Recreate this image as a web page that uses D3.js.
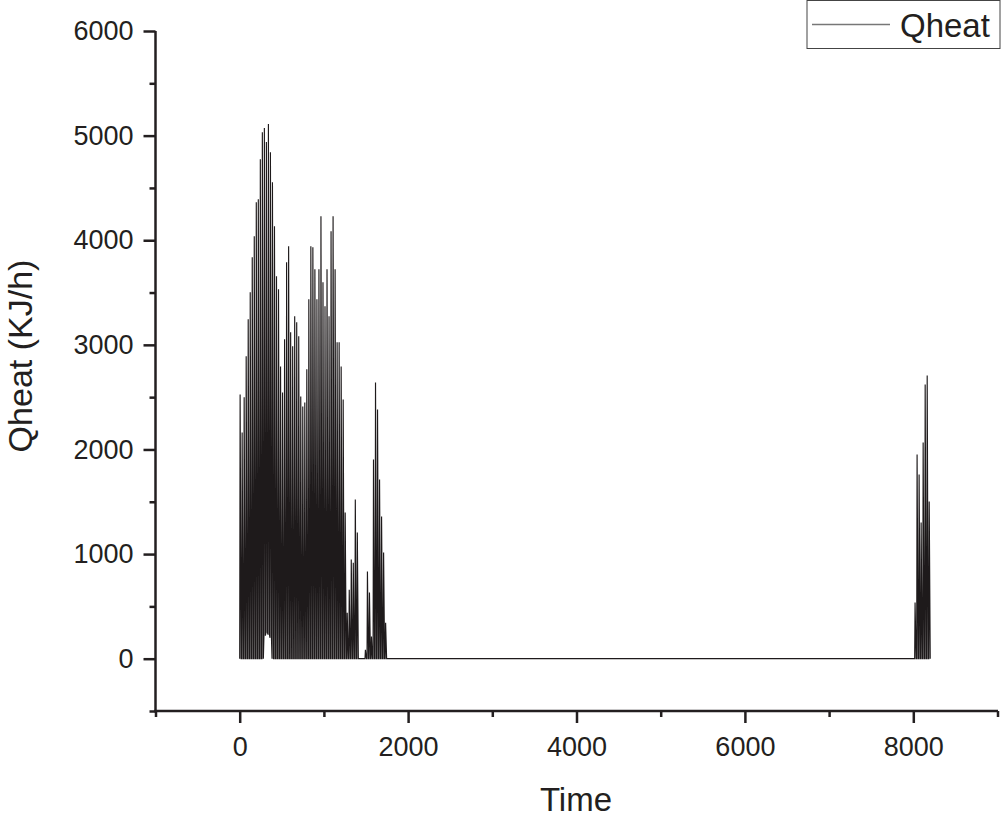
<!DOCTYPE html>
<html>
<head>
<meta charset="utf-8">
<script src="https://d3js.org/d3.v7.min.js"></script>
<style>
  body { margin: 0; background: white; }
  svg { display: block; font-family: "Liberation Sans", Arial, sans-serif; }
</style>
</head>
<body>
<svg id="main" width="1001" height="822"></svg>
<script>
// daily peak heat load (KJ/h), one spike per day
var seg1Start = 0
var seg1Peaks = [2526, 2163, 2500, 2890, 3244, 3502, 3837, 4038, 4364, 4392, 4775, 5033, 5072, 4938, 5110, 4842,
    4555, 4134, 3655, 3531, 2794, 2545, 3053, 3789, 3943, 3120, 2986, 3273,
    3215, 3081, 2507, 2411, 2450, 2766, 3435, 3943, 3933, 3722, 3435, 3722, 4230, 3598, 3368, 3722,
    3273, 4086, 4230, 3722, 3024, 3024, 2794, 2478, 1397, 440, 660, 947,
    918, 1522, 1206, 0, 0, 0, 86, 833, 632, 211, 1904, 2641, 2383, 1713, 1359, 1014, 344]
// days where the load never dropped back to zero: [day, lowest value]
var seg1Lows = [[12, 220], [13, 250], [14, 230], [15, 200]]
var seg2Start = 8016
var seg2Peaks = [536, 1952, 1761, 1301, 2067, 2622, 2708, 1502]

var xTicks = [0, 2000, 4000, 6000, 8000]
var xMinor = [-1000, 1000, 3000, 5000, 7000, 9000]
var yTicks = [0, 1000, 2000, 3000, 4000, 5000, 6000]
var yMinor = [-500, 500, 1500, 2500, 3500, 4500, 5500]

var ink = '#231f20'

document.addEventListener('DOMContentLoaded', function() {
    var svg = d3.select('#main')

    var xScale = d3.scaleLinear().domain([-1000, 9000]).range([155.5, 997.5])
    var yScale = d3.scaleLinear().domain([-500, 6000]).range([711, 31])

    // build hourly points: each day rises to its peak and falls back
    function buildSeries(start, peaks, lows) {
        var lowMap = {}
        lows.forEach(function(l) { lowMap[l[0]] = l[1] })
        var pts = []
        peaks.forEach(function(p, i) {
            var s = start + i * 24
            var lo = lowMap[i] || 0
            pts.push([s, lo])
            pts.push([s + 5, p])
            pts.push([s + 17, lo])
        })
        return pts
    }
    var series = buildSeries(seg1Start, seg1Peaks, seg1Lows)
        .concat(buildSeries(seg2Start, seg2Peaks, []))

    var line = d3.line()
        .x(function(d) { return xScale(d[0]) })
        .y(function(d) { return yScale(d[1]) })

    svg.append('path')
        .datum(series)
        .attr('d', line)
        .style('fill', 'none')
        .style('stroke', '#1e1a1b')
        .style('stroke-width', 1.15)

    // axes
    var fmt = d3.format('d')
    var gx = svg.append('g').attr('transform', 'translate(0,711)')
    gx.call(d3.axisBottom(xScale).tickValues(xTicks).tickSize(12).tickSizeOuter(0).tickFormat(fmt))
    gx.append('g').call(d3.axisBottom(xScale).tickValues(xMinor).tickSize(6).tickSizeOuter(0).tickFormat(''))

    var gy = svg.append('g').attr('transform', 'translate(155.5,0)')
    gy.call(d3.axisLeft(yScale).tickValues(yTicks).tickSize(12).tickSizeOuter(0).tickPadding(10).tickFormat(fmt))
    gy.append('g').call(d3.axisLeft(yScale).tickValues(yMinor).tickSize(6).tickSizeOuter(0).tickFormat(''))

    svg.selectAll('.domain').remove()
    svg.selectAll('.tick line').style('stroke', ink).style('stroke-width', 2.5)
    svg.selectAll('.tick text')
        .style('font-size', '27px')
        .style('font-family', '"Liberation Sans", Arial, sans-serif')
        .style('fill', ink)
    gx.selectAll('.tick text').attr('dy', '0.71em').attr('y', 26)

    svg.append('line')
        .attr('x1', 155.5).attr('x2', 155.5).attr('y1', 31).attr('y2', 712.2)
        .style('stroke', ink).style('stroke-width', 2.5)
    svg.append('line')
        .attr('x1', 154.3).attr('x2', 998).attr('y1', 711).attr('y2', 711)
        .style('stroke', ink).style('stroke-width', 2.5)

    // axis titles
    svg.append('text')
        .attr('x', 576).attr('y', 811)
        .style('text-anchor', 'middle')
        .style('font-size', '33px')
        .style('fill', ink)
        .text('Time')
    svg.append('text')
        .attr('transform', 'translate(32,356) rotate(-90)')
        .style('text-anchor', 'middle')
        .style('font-size', '34px')
        .style('fill', ink)
        .text('Qheat (KJ/h)')

    // legend
    svg.append('rect')
        .attr('x', 807).attr('y', 0.5).attr('width', 193).attr('height', 48)
        .style('fill', 'white').style('stroke', '#444').style('stroke-width', 1)
    svg.append('line')
        .attr('x1', 812).attr('x2', 890).attr('y1', 24.5).attr('y2', 24.5)
        .style('stroke', '#777').style('stroke-width', 1.3)
    svg.append('text')
        .attr('x', 900).attr('y', 36.5)
        .style('font-size', '33px')
        .style('fill', ink)
        .text('Qheat')
});
</script>
</body>
</html>
